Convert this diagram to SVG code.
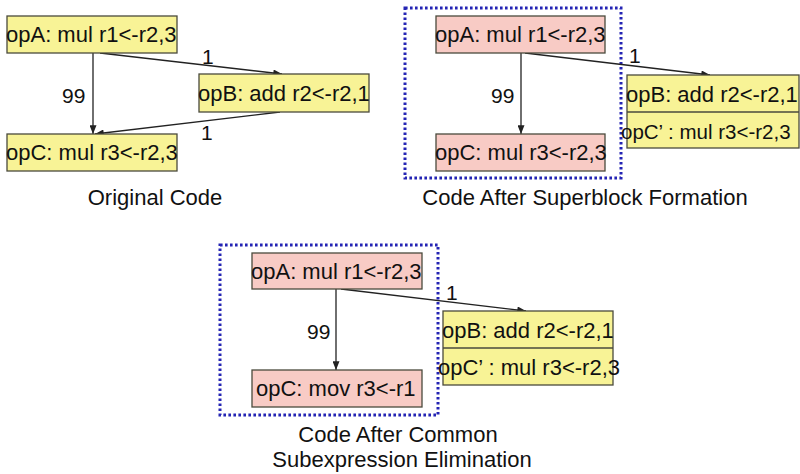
<svg xmlns="http://www.w3.org/2000/svg" width="800" height="474" viewBox="0 0 800 474">
<defs>
<style>
.y{fill:#f8f396;stroke:#4a4a3c;stroke-width:1.3}
.p{fill:#f8cbc5;stroke:#4a4a3c;stroke-width:1.3}
.t{font-family:"Liberation Sans",Arial,sans-serif;font-size:22px;fill:#111}
.l{font-family:"Liberation Sans",Arial,sans-serif;font-size:21px;fill:#111}
.c{font-family:"Liberation Sans",Arial,sans-serif;font-size:22px;fill:#111}
.e{stroke:#222;stroke-width:1.3;fill:none;marker-end:url(#ah)}
.sb{fill:none;stroke:#2424b4;stroke-width:3;stroke-dasharray:2.6 2.4}
</style>
<marker id="ah" viewBox="0 0 10 8" refX="10" refY="4" markerWidth="9" markerHeight="7" markerUnits="userSpaceOnUse" orient="auto">
<path d="M0,0 L10,4 L0,8 z" fill="#222"/>
</marker>
</defs>
<rect width="800" height="474" fill="#fff"/>

<g id="superblock-frame-1"><rect class="sb" x="405" y="8" width="216" height="170"/></g>
<g id="superblock-frame-2"><rect class="sb" x="220" y="245" width="218" height="170"/></g>

<g id="connectors">
<line class="e" x1="93" y1="53" x2="93" y2="134"/>
<line class="e" x1="100" y1="53" x2="282" y2="74"/>
<line class="e" x1="280" y1="112" x2="95" y2="134"/>
<line class="e" x1="521" y1="53" x2="521" y2="134"/>
<line class="e" x1="525" y1="53" x2="710" y2="75"/>
<line class="e" x1="336" y1="289" x2="336" y2="370"/>
<line class="e" x1="341" y1="289" x2="526" y2="311"/>
<text class="l" x="62" y="103">99</text>
<text class="l" x="202" y="64">1</text>
<text class="l" x="201" y="140">1</text>
<text class="l" x="491" y="103">99</text>
<text class="l" x="629" y="63">1</text>
<text class="l" x="307" y="339">99</text>
<text class="l" x="446" y="300">1</text>
</g>

<g id="orig-opA"><rect class="y" x="7" y="16" width="170" height="37"/><text class="t" x="6" y="42">opA: mul r1&lt;-r2,3</text></g>
<g id="orig-opB"><rect class="y" x="199" y="74" width="170" height="38"/><text class="t" x="198" y="101">opB: add r2&lt;-r2,1</text></g>
<g id="orig-opC"><rect class="y" x="7" y="134" width="170" height="37"/><text class="t" x="6" y="160">opC: mul r3&lt;-r2,3</text></g>
<g id="cap-orig"><text class="c" x="155" y="205" text-anchor="middle">Original Code</text></g>

<g id="sb-opA"><rect class="p" x="436" y="16" width="169" height="37"/><text class="t" x="435" y="42">opA: mul r1&lt;-r2,3</text></g>
<g id="sb-opC"><rect class="p" x="436" y="134" width="169" height="37"/><text class="t" x="435" y="160">opC: mul r3&lt;-r2,3</text></g>
<g id="sb-opB"><rect class="y" x="627" y="75" width="172" height="73"/><line x1="627" y1="112" x2="799" y2="112" stroke="#4a4a3c" stroke-width="1.3"/><text class="t" x="626" y="102">opB: add r2&lt;-r2,1</text><text class="t" x="621" y="139" style="font-size:20.5px">opC’ : mul r3&lt;-r2,3</text></g>
<g id="cap-sb"><text class="c" x="585" y="205" text-anchor="middle">Code After Superblock Formation</text></g>

<g id="cse-opA"><rect class="p" x="252" y="253" width="170" height="36"/><text class="t" x="251" y="279">opA: mul r1&lt;-r2,3</text></g>
<g id="cse-opC"><rect class="p" x="252" y="370" width="170" height="37"/><text class="t" x="256" y="396">opC: mov r3&lt;-r1</text></g>
<g id="cse-opB"><rect class="y" x="443" y="311" width="170" height="74"/><line x1="443" y1="348" x2="613" y2="348" stroke="#4a4a3c" stroke-width="1.3"/><text class="t" x="442" y="338">opB: add r2&lt;-r2,1</text><text class="t" x="438" y="375">opC’ : mul r3&lt;-r2,3</text></g>
<g id="cap-cse"><text class="c" x="398" y="442" text-anchor="middle">Code After Common</text><text class="c" x="402" y="467" text-anchor="middle">Subexpression Elimination</text></g>
</svg>
